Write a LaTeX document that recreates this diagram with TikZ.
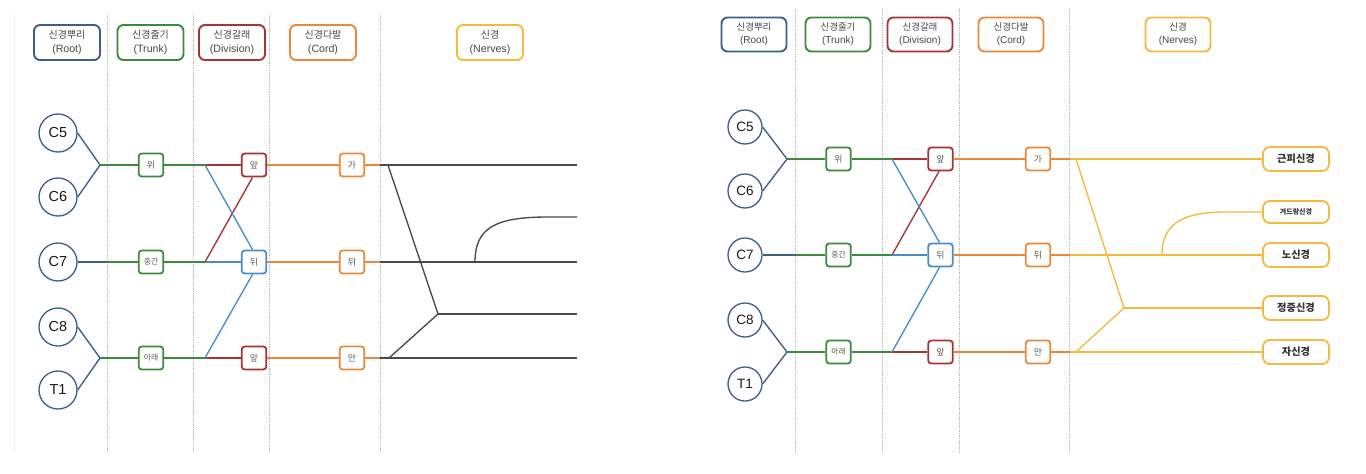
\documentclass[tikz,border=0pt]{standalone}
\usepackage{fontspec}
\setmainfont{Liberation Sans}
\newfontfamily\kr{Noto Sans CJK KR}
\usetikzlibrary{backgrounds}
\definecolor{rootblue}{HTML}{3B5F85}
\definecolor{trunkgreen}{HTML}{3C8A3C}
\definecolor{divred}{HTML}{A63434}
\definecolor{postblue}{HTML}{4A8CCB}
\definecolor{cordorange}{HTML}{EA883C}
\definecolor{nerveyellow}{HTML}{F5B940}
\definecolor{darkline}{HTML}{4A4A4A}
\tikzset{
  hdr/.style={draw, rounded corners=6pt, line width=1.9pt, minimum width=66pt, minimum height=35pt, align=center, inner sep=0pt, fill=white, text=black!72},
  hdrL/.style={hdr, font=\fontsize{10.6}{13.5}\selectfont},
  hdrR/.style={hdr, minimum width=65pt, minimum height=34pt, font=\fontsize{10}{13}\selectfont},
  rootc/.style={circle, draw=rootblue, line width=1.3pt, inner sep=0pt, fill=white, text=black!90},
  rootL/.style={rootc, minimum size=38pt, font=\fontsize{14.5}{15}\selectfont},
  rootR/.style={rootc, minimum size=34pt, font=\fontsize{13.5}{14}\selectfont},
  sbox/.style={draw, rounded corners=3pt, line width=1.8pt, minimum width=24.5pt, minimum height=23pt, inner sep=0pt, fill=white, font=\kr\fontsize{8.8}{9}\selectfont, text=black!65},
  sboxw/.style={sbox, font=\kr\fontsize{7.8}{8}\selectfont},
  nbox/.style={draw=nerveyellow, rounded corners=7pt, line width=1.8pt, minimum width=66pt, minimum height=24pt, inner sep=0pt, fill=white, font=\kr\bfseries\fontsize{10.2}{11}\selectfont, text=black!80},
  nboxs/.style={nbox, minimum height=22pt, font=\kr\bfseries\fontsize{7}{8}\selectfont},
  dline/.style={gray!55, densely dotted, line width=0.7pt},
  ln/.style={line width=1.35pt},
}
\begin{document}
\begin{tikzpicture}[x=1pt, y=-1pt]
\useasboundingbox (0,0) rectangle (1366,474);

% ================= LEFT PANEL =================
\node[hdrL, draw=rootblue]    (lh1) at (67,42.5)  {{\kr\fontsize{10}{13.5}\selectfont 신경뿌리}\\(Root)};
\node[hdrL, draw=trunkgreen]  (lh2) at (150.5,42.5) {{\kr\fontsize{10}{13.5}\selectfont 신경줄기}\\(Trunk)};
\node[hdrL, draw=divred]      (lh3) at (232,42.5) {{\kr\fontsize{10}{13.5}\selectfont 신경갈래}\\(Division)};
\node[hdrL, draw=cordorange]  (lh4) at (323,42.5) {{\kr\fontsize{10}{13.5}\selectfont 신경다발}\\(Cord)};
\node[hdrL, draw=nerveyellow] (lh5) at (490,42.5) {{\kr\fontsize{10}{13.5}\selectfont 신경}\\(Nerves)};

\node[rootL] (lc5) at (58,133) {C5};
\node[rootL] (lc6) at (58,197) {C6};
\node[rootL] (lc7) at (58,262) {C7};
\node[rootL] (lc8) at (58,327) {C8};
\node[rootL] (lt1) at (58,390) {T1};

\node[sbox, draw=trunkgreen]  (lt_up)  at (151,165) {위};
\node[sboxw, draw=trunkgreen] (lt_mid) at (151,262) {중간};
\node[sboxw, draw=trunkgreen] (lt_lo)  at (151,358) {아래};

\node[sbox, draw=divred]   (ld1) at (254,165) {앞};
\node[sbox, draw=postblue] (ld2) at (254,262) {뒤};
\node[sbox, draw=divred]   (ld3) at (254,358) {앞};

\node[sbox, draw=cordorange] (lk1) at (352,165) {가};
\node[sbox, draw=cordorange] (lk2) at (352,262) {뒤};
\node[sbox, draw=cordorange] (lk3) at (352,358) {안};

\coordinate (lj1) at (100,165);
\coordinate (lj2) at (100,358);
\coordinate (lc7b) at (107,262);
\coordinate (ls1) at (205,165);
\coordinate (ls2) at (205,262);
\coordinate (ls3) at (205,358);
\coordinate (lo1) at (380,165);
\coordinate (lo2) at (380,262);
\coordinate (lo3) at (380,358);
\coordinate (lp1) at (388,165);
\coordinate (lp3) at (389,358);
\coordinate (lm) at (438,314);
\coordinate (le1) at (577,165);
\coordinate (le2) at (577,217);
\coordinate (le3) at (577,262);
\coordinate (le4) at (577,314);
\coordinate (le5) at (577,358);
\coordinate (lq) at (475,262);

% ================= RIGHT PANEL =================
\node[hdrR, draw=rootblue]    (rh1) at (754,34.5)  {{\kr\fontsize{9.5}{13}\selectfont 신경뿌리}\\(Root)};
\node[hdrR, draw=trunkgreen]  (rh2) at (838,34.5)  {{\kr\fontsize{9.5}{13}\selectfont 신경줄기}\\(Trunk)};
\node[hdrR, draw=divred]      (rh3) at (920,34.5)  {{\kr\fontsize{9.5}{13}\selectfont 신경갈래}\\(Division)};
\node[hdrR, draw=cordorange]  (rh4) at (1011,34.5) {{\kr\fontsize{9.5}{13}\selectfont 신경다발}\\(Cord)};
\node[hdrR, draw=nerveyellow] (rh5) at (1178,34.5) {{\kr\fontsize{9.5}{13}\selectfont 신경}\\(Nerves)};

\node[rootR] (rc5) at (745,127) {C5};
\node[rootR] (rc6) at (745,191) {C6};
\node[rootR] (rc7) at (745,255) {C7};
\node[rootR] (rc8) at (745,320) {C8};
\node[rootR] (rt1) at (745,384) {T1};

\node[sbox, draw=trunkgreen]  (rt_up)  at (838.5,159) {위};
\node[sboxw, draw=trunkgreen] (rt_mid) at (838.5,255) {중간};
\node[sboxw, draw=trunkgreen] (rt_lo)  at (838.5,352) {아래};

\node[sbox, draw=divred]   (rd1) at (940.5,159) {앞};
\node[sbox, draw=postblue] (rd2) at (940.5,255) {뒤};
\node[sbox, draw=divred]   (rd3) at (940.5,352) {앞};

\node[sbox, draw=cordorange] (rk1) at (1038,159) {가};
\node[sbox, draw=cordorange] (rk2) at (1038,255) {뒤};
\node[sbox, draw=cordorange] (rk3) at (1038,352) {안};

\node[nbox]  (rn1) at (1296,159) {근피신경};
\node[nboxs] (rn2) at (1296,212) {겨드랑신경};
\node[nbox]  (rn3) at (1296,255) {노신경};
\node[nbox]  (rn4) at (1296,308) {정중신경};
\node[nbox]  (rn5) at (1296,352) {자신경};

\coordinate (rj1) at (787,159);
\coordinate (rj2) at (787,352);
\coordinate (rc7b) at (795,255);
\coordinate (rs1) at (892,159);
\coordinate (rs2) at (892,255);
\coordinate (rs3) at (892,352);
\coordinate (ro1) at (1070,159);
\coordinate (ro2) at (1070,255);
\coordinate (ro3) at (1070,352);
\coordinate (rp1) at (1076,159);
\coordinate (rp3) at (1076,352);
\coordinate (rm) at (1124,308);
\coordinate (rq) at (1162,255);

\begin{scope}[on background layer]
  \fill[white] (0,0) rectangle (1366,474);
  % panel guides
  \draw[gray!12, line width=0.6pt] (14.5,15) -- (14.5,452);
  \foreach \x in {107,193,269,380} \draw[dline] (\x,14) -- (\x,452);
  \foreach \x in {795,882,959,1069} \draw[dline] (\x,8) -- (\x,452);

  % ---- left connectors
  \draw[ln, rootblue] (lc5.east) -- (lj1);
  \draw[ln, rootblue] (lc6.east) -- (lj1);
  \draw[ln, rootblue] (lc8.east) -- (lj2);
  \draw[ln, rootblue] (lt1.east) -- (lj2);
  \draw[ln, rootblue] (lc7) -- (lc7b);
  \draw[ln, trunkgreen] (lc7b) -- (lt_mid);
  \draw[ln, trunkgreen] (lj1) -- (lt_up);
  \draw[ln, trunkgreen] (lj2) -- (lt_lo);
  \draw[ln, trunkgreen] (lt_up) -- (ls1);
  \draw[ln, trunkgreen] (lt_mid) -- (ls2);
  \draw[ln, trunkgreen] (lt_lo) -- (ls3);
  \draw[ln, divred] (ls1) -- (ld1);
  \draw[ln, divred] (ls3) -- (ld3);
  \draw[ln, divred] (ls2) -- ([xshift=-1.5pt]ld1.south);
  \draw[ln, postblue] (ls2) -- (ld2);
  \draw[ln, postblue] (ls1) -- ([xshift=-1.5pt]ld2.north);
  \draw[ln, postblue] (ls3) -- ([xshift=-1.5pt]ld2.south);
  \draw[ln, cordorange] (ld1) -- (lk1);
  \draw[ln, cordorange] (ld2) -- (lk2);
  \draw[ln, cordorange] (ld3) -- (lk3);
  \draw[ln, cordorange] (lk1) -- (lo1);
  \draw[ln, cordorange] (lk2) -- (lo2);
  \draw[ln, cordorange] (lk3) -- (lo3);
  \draw[ln, darkline] (lo1) -- (le1);
  \draw[ln, darkline] (lo2) -- (le3);
  \draw[ln, darkline] (lo3) -- (le5);
  \draw[ln, darkline] (lp1) -- (lm);
  \draw[ln, darkline] (lp3) -- (lm);
  \draw[ln, darkline] (lm) -- (le4);
  \draw[ln, darkline] (lq) .. controls (475,228) and (495,217) .. (548,217) -- (le2);

  % ---- right connectors
  \draw[ln, rootblue] (rc5.east) -- (rj1);
  \draw[ln, rootblue] (rc6.east) -- (rj1);
  \draw[ln, rootblue] (rc8.east) -- (rj2);
  \draw[ln, rootblue] (rt1.east) -- (rj2);
  \draw[ln, rootblue] (rc7) -- (rc7b);
  \draw[ln, trunkgreen] (rc7b) -- (rt_mid);
  \draw[ln, trunkgreen] (rj1) -- (rt_up);
  \draw[ln, trunkgreen] (rj2) -- (rt_lo);
  \draw[ln, trunkgreen] (rt_up) -- (rs1);
  \draw[ln, trunkgreen] (rt_mid) -- (rs2);
  \draw[ln, trunkgreen] (rt_lo) -- (rs3);
  \draw[ln, divred] (rs1) -- (rd1);
  \draw[ln, divred] (rs3) -- (rd3);
  \draw[ln, divred] (rs2) -- ([xshift=-1.5pt]rd1.south);
  \draw[ln, postblue] (rs2) -- (rd2);
  \draw[ln, postblue] (rs1) -- ([xshift=-1pt]rd2.north);
  \draw[ln, postblue] (rs3) -- ([xshift=-1pt]rd2.south);
  \draw[ln, cordorange] (rd1) -- (rk1);
  \draw[ln, cordorange] (rd2) -- (rk2);
  \draw[ln, cordorange] (rd3) -- (rk3);
  \draw[ln, cordorange] (rk1) -- (ro1);
  \draw[ln, cordorange] (rk2) -- (ro2);
  \draw[ln, cordorange] (rk3) -- (ro3);
  \draw[ln, nerveyellow] (ro1) -- (rn1);
  \draw[ln, nerveyellow] (ro2) -- (rn3);
  \draw[ln, nerveyellow] (ro3) -- (rn5);
  \draw[ln, nerveyellow] (rp1) -- (rm);
  \draw[ln, nerveyellow] (rp3) -- (rm);
  \draw[ln, nerveyellow] (rm) -- (rn4);
  \draw[ln, nerveyellow] (rq) .. controls (1162,224) and (1182,212) .. (1226,212) -- (rn2);
\end{scope}
\end{tikzpicture}
\end{document}
